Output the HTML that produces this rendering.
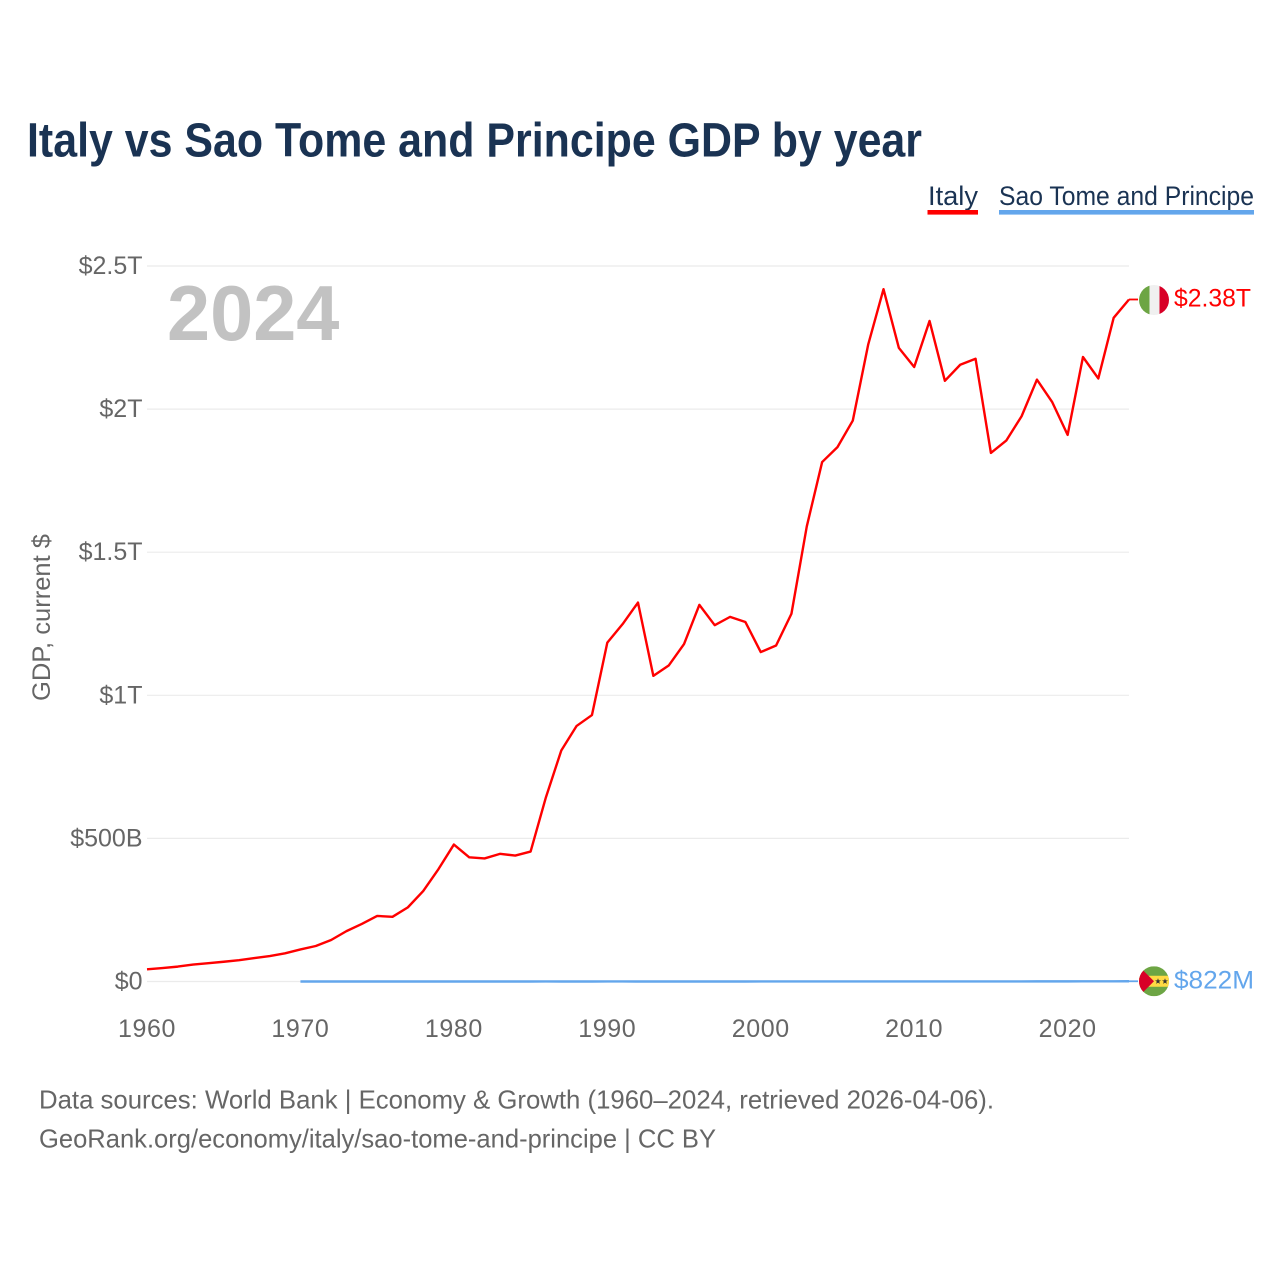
<!DOCTYPE html>
<html lang="en">
<head>
<meta charset="utf-8">
<title>Italy vs Sao Tome and Principe GDP by year</title>
<style>
html,body{margin:0;padding:0;background:#fff;width:1280px;height:1280px;overflow:hidden}
svg{display:block}
text{font-family:"Liberation Sans",sans-serif}
</style>
</head>
<body>
<svg id="chart" xmlns="http://www.w3.org/2000/svg" width="1280" height="1280" viewBox="0 0 1280 1280">
  <defs>
    <clipPath id="flag-clip-it"><circle cx="0" cy="0" r="15"/></clipPath>
    <clipPath id="flag-clip-st"><circle cx="0" cy="0" r="15"/></clipPath>
  </defs>
  <text x="27" y="156.5" font-size="48" font-weight="700" fill="#1a3353" textLength="895" lengthAdjust="spacingAndGlyphs">Italy vs Sao Tome and Principe GDP by year</text>

  <g>
    <g>
      <text x="928" y="205" font-size="27" fill="#1a3353" textLength="50" lengthAdjust="spacingAndGlyphs">Italy</text>
      <rect x="927.5" y="210" width="50.5" height="4.6" fill="#ff0000"/>
    </g>
    <g>
      <text x="999" y="205" font-size="27" fill="#1a3353" textLength="255" lengthAdjust="spacingAndGlyphs">Sao Tome and Principe</text>
      <rect x="999" y="210" width="255" height="4.6" fill="#63a6ec"/>
    </g>
  </g>

  <g id="grid"></g>
  <g id="yticks"></g>
  <g id="xticks"></g>

  <text transform="translate(50,701) rotate(-90)" font-size="25" fill="#666666" textLength="167" lengthAdjust="spacingAndGlyphs">GDP, current $</text>
  <text x="167" y="340" font-size="77.5" font-weight="700" fill="#c2c2c2">2024</text>

  <g id="series"></g>

  <g id="flag-it">
    <g clip-path="url(#flag-clip-it)">
      <rect x="-15" y="-15" width="10.5" height="30" fill="#6da544"/>
      <rect x="-4.5" y="-15" width="10" height="30" fill="#f0f0f0"/>
      <rect x="5.5" y="-15" width="10" height="30" fill="#d80027"/>
    </g>
  </g>
  <g id="flag-st">
    <g clip-path="url(#flag-clip-st)">
      <rect x="-15" y="-15" width="30" height="30" fill="#6da544"/>
      <rect x="-15" y="-5.5" width="30" height="11" fill="#ffda44"/>
      <polygon points="-15,-15 0,0 -15,15" fill="#d80027"/>
      <polygon points="4,-3 4.8,-0.9 7,-0.9 5.2,0.4 5.9,2.6 4,1.3 2.1,2.6 2.8,0.4 1,-0.9 3.2,-0.9" fill="#333333"/>
      <polygon points="11,-3 11.8,-0.9 14,-0.9 12.2,0.4 12.9,2.6 11,1.3 9.1,2.6 9.8,0.4 8,-0.9 10.2,-0.9" fill="#333333"/>
    </g>
  </g>

  <text id="label-it" x="1174" font-size="25" fill="#ff0000" textLength="77" lengthAdjust="spacingAndGlyphs">$2.38T</text>
  <text id="label-st" x="1174" font-size="25" fill="#63a6ec" textLength="80" lengthAdjust="spacingAndGlyphs">$822M</text>

  <text x="39" y="1108.5" font-size="26" fill="#666666" textLength="955" lengthAdjust="spacingAndGlyphs">Data sources: World Bank | Economy &amp; Growth (1960–2024, retrieved 2026-04-06).</text>
  <text x="39" y="1147.5" font-size="26" fill="#666666" textLength="677" lengthAdjust="spacingAndGlyphs">GeoRank.org/economy/italy/sao-tome-and-principe | CC BY</text>
</svg>
<script>
// Years, first to last
const firstYear = 1960;
const lastYear = 2024;
// Italy GDP in trillions of current USD, 1960 to 2024
const italyValues = [0.0425,0.0468,0.0520,0.0590,0.0640,0.0690,0.0745,0.0820,0.0890,0.0985,0.1120,0.1240,0.1450,0.1760,0.2010,0.2290,0.2260,0.2590,0.3160,0.3930,0.4785,0.4340,0.4300,0.4460,0.4400,0.4540,0.6440,0.8070,0.8930,0.9310,1.1840,1.2490,1.3240,1.0680,1.1040,1.1790,1.3160,1.2450,1.2740,1.2560,1.1510,1.1740,1.2850,1.5900,1.8150,1.8670,1.9600,2.2250,2.4190,2.2140,2.1470,2.3080,2.0990,2.1550,2.1760,1.8470,1.8900,1.9750,2.1030,2.0240,1.9100,2.1820,2.1070,2.3190,2.3830];
// Sao Tome and Principe GDP in trillions of current USD, 1970 to 2024
const saoTomeStart = 1970;
const saoTomeValues = [0.00002,0.00002,0.00002,0.00003,0.00003,0.00003,0.00003,0.00004,0.00004,0.00005,0.00005,0.00005,0.00005,0.00005,0.00005,0.00005,0.00006,0.00005,0.00005,0.00005,0.00006,0.00006,0.00005,0.00005,0.00005,0.00005,0.00005,0.00005,0.00005,0.00005,0.00007,0.00008,0.00009,0.00010,0.00011,0.00013,0.00013,0.00015,0.00019,0.00020,0.00020,0.00025,0.00027,0.00031,0.00035,0.00032,0.00035,0.00038,0.00041,0.00043,0.00047,0.00053,0.00055,0.00068,0.000822];
// Axis ticks
const yTickValues = [0,0.5,1,1.5,2,2.5];
const yTickLabels = ["$0","$500B","$1T","$1.5T","$2T","$2.5T"];
const xTickYears = [1960,1970,1980,1990,2000,2010,2020];

const plotLeft = 147, plotRight = 1129, plotBottom = 981.5, plotTop = 266;
const xMax = plotRight;
const connectorEnd = 1138;
const flagX = 1154;
const SVG_NS = "http://www.w3.org/2000/svg";

function xScale(year) {
  return plotLeft + (year - firstYear) / (lastYear - firstYear) * (plotRight - plotLeft);
}
function yScale(value) {
  return plotBottom - value / 2.5 * (plotBottom - plotTop);
}
function make(tag, parent) {
  const el = document.createElementNS(SVG_NS, tag);
  parent.appendChild(el);
  return el;
}
function linePoints(values, startYear) {
  return values.map(function (v, i) {
    return xScale(startYear + i).toFixed(2) + "," + yScale(v).toFixed(2);
  });
}

const gridGroup = document.getElementById("grid");
const yTickGroup = document.getElementById("yticks");
const xTickGroup = document.getElementById("xticks");
const seriesGroup = document.getElementById("series");

yTickValues.forEach(function (v, i) {
  const line = make("line", gridGroup);
  
  
  line.setAttribute("x1", plotLeft);
  line.setAttribute("x2", xMax);
  line.setAttribute("y1", yScale(v));
  line.setAttribute("y2", yScale(v));
  line.setAttribute("stroke", "#ebebeb");
  line.setAttribute("stroke-width", "1.2");

  const label = make("text", yTickGroup);
  
  
  label.setAttribute("x", 142.5);
  label.setAttribute("y", yScale(v) + 8);
  label.setAttribute("text-anchor", "end");
  label.setAttribute("font-size", "25");
  label.setAttribute("fill", "#666666");
  label.textContent = yTickLabels[i];
});

xTickYears.forEach(function (year) {
  const label = make("text", xTickGroup);
  
  
  label.setAttribute("x", xScale(year));
  label.setAttribute("y", 1037);
  label.setAttribute("text-anchor", "middle");
  label.setAttribute("font-size", "25");
  label.setAttribute("letter-spacing", "0.6");
  label.setAttribute("fill", "#666666");
  label.textContent = String(year);
});

const saoLine = make("polyline", seriesGroup);


saoLine.setAttribute("points", linePoints(saoTomeValues, saoTomeStart).join(" "));
saoLine.setAttribute("fill", "none");
saoLine.setAttribute("stroke", "#63a6ec");
saoLine.setAttribute("stroke-width", "2.4");

const italyLine = make("polyline", seriesGroup);


italyLine.setAttribute("points", linePoints(italyValues, firstYear).join(" "));
italyLine.setAttribute("fill", "none");
italyLine.setAttribute("stroke", "#ff0000");
italyLine.setAttribute("stroke-width", "2.4");
italyLine.setAttribute("stroke-linejoin", "round");

const italyEndY = yScale(italyValues[italyValues.length - 1]);
const saoEndY = yScale(saoTomeValues[saoTomeValues.length - 1]);

const italyStub = make("line", seriesGroup);


italyStub.setAttribute("x1", plotRight);
italyStub.setAttribute("x2", connectorEnd);
italyStub.setAttribute("y1", italyEndY);
italyStub.setAttribute("y2", italyEndY);
italyStub.setAttribute("stroke", "#ff0000");
italyStub.setAttribute("stroke-width", "1.8");

const saoStub = make("line", seriesGroup);


saoStub.setAttribute("x1", plotRight);
saoStub.setAttribute("x2", connectorEnd);
saoStub.setAttribute("y1", saoEndY);
saoStub.setAttribute("y2", saoEndY);
saoStub.setAttribute("stroke", "#63a6ec");
saoStub.setAttribute("stroke-width", "1.8");

document.getElementById("flag-it").setAttribute("transform", "translate(" + flagX + "," + (italyEndY + 0.5) + ")");
document.getElementById("flag-st").setAttribute("transform", "translate(" + flagX + "," + saoEndY + ")");
document.getElementById("label-it").setAttribute("y", italyEndY + 7);
document.getElementById("label-st").setAttribute("y", saoEndY + 7);
</script>
</body>
</html>
